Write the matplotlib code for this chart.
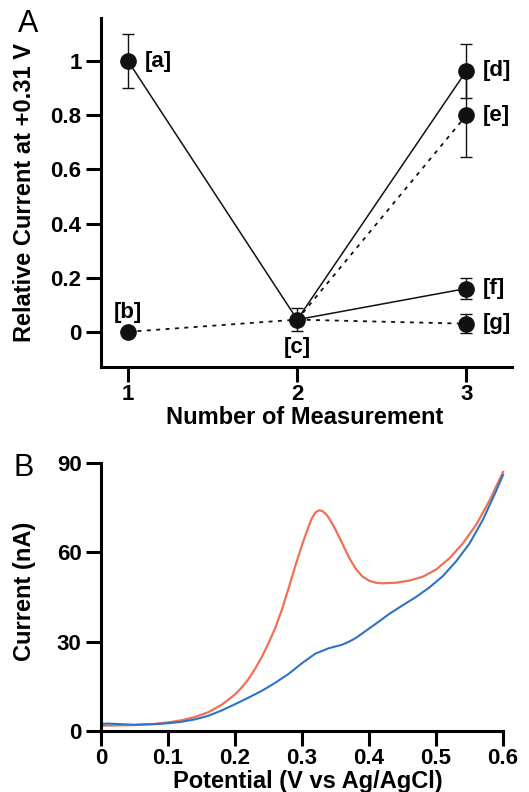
import matplotlib
matplotlib.use("Agg")
import matplotlib.pyplot as plt

plt.rcParams["font.family"] = ["Liberation Sans", "DejaVu Sans"]
plt.rcParams["font.weight"] = "bold"

# ---- Panel A data ---------------------------------------------------------
meas = [1, 2, 3]
path_solid = [1.0, 0.045, 0.964]     # a -> c -> d
path_dash = [0.0, 0.045, 0.80]       # b -> c -> e
branch_f = [0.045, 0.16]             # c -> f (solid)
branch_g = [0.045, 0.03]             # c -> g (dashed)

pt_x = [1, 1, 2, 3, 3, 3, 3]
pt_y = [1.0, 0.0, 0.045, 0.964, 0.80, 0.16, 0.03]
pt_err = [0.10, 0.0, 0.043, 0.10, 0.155, 0.04, 0.035]
pt_tags = ["[a]", "[b]", "[c]", "[d]", "[e]", "[f]", "[g]"]

# ---- Panel B data ---------------------------------------------------------
v_blue = [0, 0.01, 0.03, 0.05, 0.08, 0.1, 0.12, 0.14, 0.16, 0.18, 0.2, 0.22,
          0.24, 0.26, 0.28, 0.3, 0.32, 0.34, 0.36, 0.37, 0.38, 0.39, 0.41,
          0.43, 0.45, 0.47, 0.49, 0.51, 0.53, 0.55, 0.57, 0.59, 0.6]
i_blue = [2.4, 2.5, 2.3, 2.1, 2.3, 2.6, 3.1, 3.9, 5.1, 6.9, 9.0, 11.2,
          13.5, 16.2, 19.2, 22.8, 26.0, 27.8, 29.0, 30.0, 31.2, 32.8, 36.0,
          39.3, 42.2, 45.0, 48.2, 52.0, 57.0, 63.0, 71.0, 80.8, 86.0]
v_red = [0, 0.03, 0.05, 0.08, 0.1, 0.12, 0.14, 0.16, 0.18, 0.2, 0.21, 0.22,
         0.23, 0.24, 0.25, 0.26, 0.27, 0.28, 0.29, 0.30, 0.31, 0.315, 0.32,
         0.325, 0.33, 0.335, 0.34, 0.35, 0.36, 0.37, 0.38, 0.39, 0.40, 0.41,
         0.42, 0.44, 0.46, 0.48, 0.50, 0.52, 0.54, 0.56, 0.58, 0.6]
i_red = [1.8, 1.9, 2.0, 2.4, 2.9, 3.6, 4.7, 6.3, 8.8, 12.3, 14.6, 17.4,
         20.9, 24.9, 29.5, 34.6, 40.8, 48.0, 55.5, 62.5, 68.8, 71.6, 73.4,
         74.1, 73.9, 73.0, 71.6, 67.6, 63.0, 58.3, 54.5, 51.9, 50.5, 49.8,
         49.6, 49.8, 50.5, 51.8, 54.2, 58.0, 63.0, 69.3, 77.5, 87.0]

fig = plt.figure(figsize=(5.29, 7.92), dpi=100)
axA = fig.add_axes([0.191, 0.5366, 0.777, 0.4406])
axB = fig.add_axes([0.191, 0.077, 0.760, 0.3384])


def style(ax):
    for s in ["top", "right"]:
        ax.spines[s].set_visible(False)
    for s in ["left", "bottom"]:
        ax.spines[s].set_linewidth(2.2)
    ax.tick_params(width=2.2, length=11, labelsize=16, pad=3, direction="out")
    ax.tick_params(axis="x", pad=1.5)


# ---- Panel A --------------------------------------------------------------
style(axA)
axA.plot(meas, path_solid, color="#111111", lw=1.1, zorder=2)
axA.plot(meas, path_dash, color="#111111", lw=1.3, ls=(0, (2.2, 3)), zorder=2)
axA.plot(meas[1:], branch_f, color="#111111", lw=1.1, zorder=2)
axA.plot(meas[1:], branch_g, color="#111111", lw=1.3, ls=(0, (2.2, 3)), zorder=2)
axA.errorbar(pt_x, pt_y, yerr=pt_err, fmt="o", ms=11, color="#111111",
             ecolor="#111111", elinewidth=1.0, capsize=4, capthick=1.0, zorder=3)

offsets = {"[b]": (0, 14, "center"), "[c]": (0, -20, "center")}
for x, y, t in zip(pt_x, pt_y, pt_tags):
    dx, dy, ha = offsets.get(t, (12, 0, "left"))
    axA.annotate(t, (x, y), xytext=(dx, dy), textcoords="offset points",
                 ha=ha, va="center", fontsize=16, fontweight="bold")

axA.set_xlim(0.84, 3.27)
axA.set_ylim(-0.13, 1.159)
axA.set_xticks([1, 2, 3])
axA.set_yticks([0, 0.2, 0.4, 0.6, 0.8, 1])
axA.set_yticklabels(["0", "0.2", "0.4", "0.6", "0.8", "1"])
axA.set_xlabel("Number of Measurement", fontsize=17, fontweight="bold", va="top")
axA.set_ylabel("Relative Current at +0.31 V", fontsize=17, fontweight="bold", va="center")
axA.xaxis.set_label_coords(0.495, -0.112)
axA.yaxis.set_label_coords(-0.187, 0.5)
fig.text(0.034, 0.970, "A", fontsize=22, fontweight="normal", va="center")

# ---- Panel B --------------------------------------------------------------
style(axB)
axB.plot(v_red, i_red, color="#f07055", lw=1.6, clip_on=False)
axB.plot(v_blue, i_blue, color="#2f73c6", lw=1.5, clip_on=False)
axB.set_xlim(0, 0.6)
axB.set_ylim(0, 90)
axB.set_xticks([0, 0.1, 0.2, 0.3, 0.4, 0.5, 0.6])
axB.set_xticklabels(["0", "0.1", "0.2", "0.3", "0.4", "0.5", "0.6"])
axB.set_yticks([0, 30, 60, 90])
axB.set_xlabel("Potential (V vs Ag/AgCl)", fontsize=17, fontweight="bold", va="center")
axB.set_ylabel("Current (nA)", fontsize=17, fontweight="bold", va="center")
axB.xaxis.set_label_coords(0.515, -0.187)
axB.yaxis.set_label_coords(-0.19, 0.522)
fig.text(0.025, 0.409, "B", fontsize=22, fontweight="normal", va="center")

fig.savefig("out.png", dpi=100)
